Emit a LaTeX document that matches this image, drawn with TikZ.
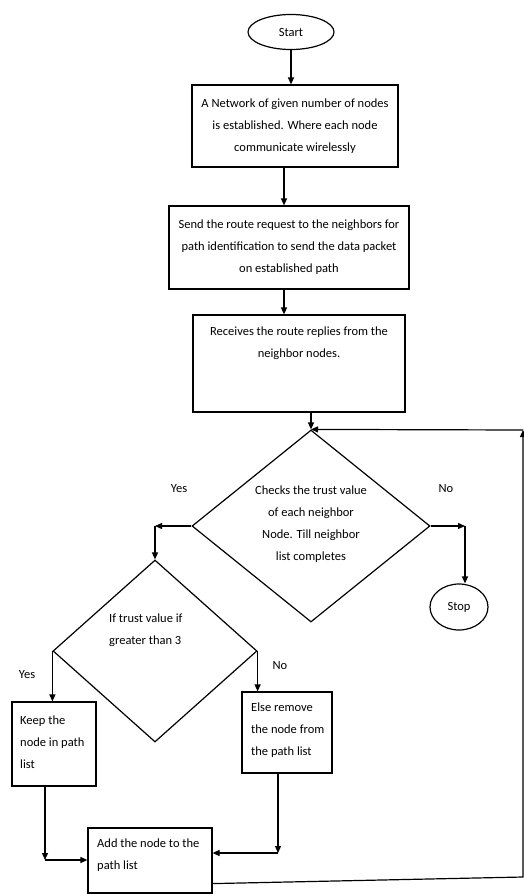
\documentclass[tikz,border=0pt]{standalone}
\usepackage{fontspec}
\setmainfont{Carlito}
\usetikzlibrary{shapes.geometric,arrows.meta}
\begin{document}
\begin{tikzpicture}[x=1pt,y=-1pt,
  every node/.style={font=\fontsize{12.5}{22}\selectfont},
  box/.style={draw,line width=1.2pt,rectangle,inner sep=0pt},
  term/.style={draw,line width=1.2pt,ellipse,inner sep=0pt},
  dia/.style={draw,line width=1.2pt,diamond,inner sep=0pt},
  txt/.style={align=center,inner sep=0pt},
  ltxt/.style={align=left,inner sep=0pt,anchor=west},
  conn/.style={line width=1.2pt,-{Triangle[length=7pt,width=6pt]}}]
\useasboundingbox (0,0) rectangle (524,894);

% nodes
\node[term,minimum width=86pt,minimum height=35pt] (start) at (291,32) {Start};
\node[box,txt,minimum width=206pt,minimum height=82pt] (b1) at (295,126)
  {A Network of given number of nodes\\is established. Where each node\\communicate wirelessly};
\node[box,txt,minimum width=240pt,minimum height=83pt] (b2) at (289,247.5)
  {Send the route request to the neighbors for\\path identification to send the data packet\\on established path};
\node[box,minimum width=212pt,minimum height=97pt] (b3) at (299,363.5) {};
\node[txt] (b3t) at (299,343.5) {Receives the route replies from the\\neighbor nodes.};

\node[dia,minimum width=238pt,minimum height=192pt] (d1) at (311,526) {};
\node[txt] (d1t) at (311,524) {Checks the trust value\\of each neighbor\\Node. Till neighbor\\list completes};

\node[term,minimum width=58pt,minimum height=46pt] (stop) at (459,607) {Stop};

\node[dia,minimum width=204pt,minimum height=182pt] (d2) at (155,651) {};
\node[ltxt] (d2t) at (109,630.5) {If trust value if\\greater than 3};

\node[box,minimum width=84pt,minimum height=84pt] (keep) at (54,744) {};
\node[ltxt] (keept) at (20,742.5) {Keep the\\node in path\\list};
\node[box,minimum width=90pt,minimum height=81pt] (else) at (287,732.5) {};
\node[ltxt] (elset) at (251,730) {Else remove\\the node from\\the path list};
\node[box,minimum width=124pt,minimum height=65pt] (add) at (150,860.5) {};
\node[ltxt] (addt) at (97,855.5) {Add the node to the\\path list};

% labels
\node (yes1) at (179,489) {Yes};
\node (no1) at (446,489) {No};
\node (yes2) at (27,675) {Yes};
\node (no2) at (280,666) {No};

% helper coordinates
\coordinate (a1) at (284,0);
\coordinate (c2) at (465,526);
\coordinate (c3) at (45,860);
\coordinate (c4) at (278,853);
\coordinate (c5) at (523,877);
\coordinate (c6) at (523,430);

% connectors
\draw[conn] (start.south) -- (start.south |- b1.north);
\draw[conn] (a1 |- b1.south) -- (a1 |- b2.north);
\draw[conn] (a1 |- b2.south) -- (a1 |- b3.north);
\draw[conn] (d1.north |- b3.south) -- (d1.north);
\draw[conn] (d1.west) -- (d1.west -| d2.north);
\draw[conn] (d1.west -| d2.north) -- (d2.north);
\draw[conn] (d1.east) -- (c2);
\draw[conn] (c2) -- (c2 |- stop.north);
\draw[conn] (d2.west) -- (d2.west |- keep.north);
\draw[conn] (d2.east) -- (d2.east |- else.north);
\draw[conn] (keep.south -| c3) -- (c3);
\draw[conn] (c3) -- (c3 -| add.west);
\draw[conn] (else.south -| c4) -- (c4);
\draw[conn] (c4) -- (c4 -| add.east);
\draw[conn] ([yshift=10pt]add.south east) -- (c5) -- (c6);
\draw[conn] (c6) -- (d1.north);
\end{tikzpicture}
\end{document}
